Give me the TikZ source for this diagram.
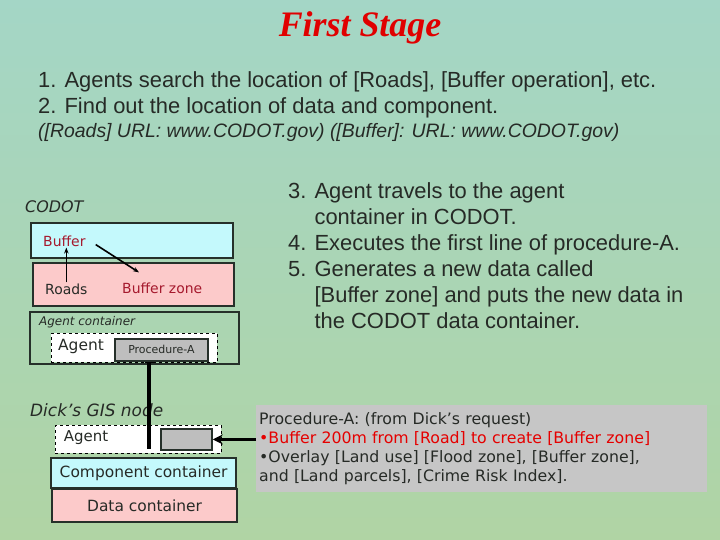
\documentclass[tikz,border=0pt]{standalone}
\usepackage{fontspec}
\setmainfont{Liberation Sans}
\newfontfamily\boxfont{DejaVu Sans}
\newfontfamily\titlefont{Liberation Serif}
\usetikzlibrary{arrows.meta}
\definecolor{bgtop}{RGB}{164,214,198}
\definecolor{bgbot}{RGB}{176,212,164}
\definecolor{skyfill}{RGB}{196,249,252}
\definecolor{pinkfill}{RGB}{252,202,202}
\definecolor{procgray}{RGB}{190,190,190}
\definecolor{notegray}{RGB}{198,198,198}
\definecolor{zonered}{RGB}{165,25,45}
\definecolor{boxline}{RGB}{38,48,42}
\definecolor{inktext}{RGB}{38,42,38}

\begin{document}
\begin{tikzpicture}[x=1bp,y=-1bp,
    panel/.style={draw=boxline,line width=2.2bp,anchor=north west,inner sep=0pt},
    dashbox/.style={draw=black,dashed,fill=white,line width=0.8bp,anchor=north west,inner sep=0pt},
    boxtext/.style={font=\boxfont\fontsize{14}{16}\selectfont,text=inktext,inner sep=1bp},
    tagtext/.style={font=\boxfont\itshape\fontsize{16}{18}\selectfont,text=inktext,anchor=west,inner sep=0pt},
    steptext/.style={font=\fontsize{22}{26.2}\selectfont,text=inktext,anchor=base west,inner sep=0pt}]

\useasboundingbox (0,0) rectangle (720,540);
\shade[top color=bgtop,bottom color=bgbot] (0,0) rectangle (720,540);

\node[font=\titlefont\bfseries\itshape\fontsize{36}{42}\selectfont,text=red!88!black] (title) at (360,28) {First Stage};

\node[steptext] (stepone) at (38,88) {1. Agents search the location of [Roads], [Buffer operation], etc.};
\node[steptext] (steptwo) at (38,114) {2. Find out the location of data and component.};
\node[steptext,font=\itshape\fontsize{19.5}{22}\selectfont] (urls) at (38,138) {([Roads] URL: www.CODOT.gov) ([Buffer]: URL: www.CODOT.gov)};

% CODOT node
\node[tagtext] (codot) at (25,207) {CODOT};
\node[panel,fill=skyfill,minimum width=202bp,minimum height=35bp] (bufferbox) at (30,222) {};
\node[panel,fill=pinkfill,minimum width=201bp,minimum height=43bp] (zonebox) at (32,262) {};
\node[boxtext,text=zonered,anchor=west] (buffer) at (42,241) {Buffer};
\node[boxtext,anchor=west] (roads) at (44,289) {Roads};
\node[boxtext,text=zonered,anchor=west] (bufzone) at (121,288) {Buffer zone};
\draw[-{Stealth[length=6bp]},line width=1.6bp] (roads.north) -- (roads.north |- buffer.south);
\draw[-{Stealth[length=6bp]},line width=1.6bp] ([shift={(9,-3)}]buffer.south east) -- ([shift={(18,-9)}]bufzone.north west);

\node[panel,minimum width=209bp,minimum height=52bp] (agentcont) at (29,311) {};
\node[tagtext,font=\boxfont\itshape\fontsize{12}{14}\selectfont] (contlabel) at (39,322) {Agent container};
\node[dashbox,minimum width=166bp,minimum height=29bp] (agentup) at (51,333) {};
\node[boxtext,font=\boxfont\fontsize{15.5}{18}\selectfont] (agentone) at (81,346) {Agent};
\node[panel,fill=procgray,line width=1.8bp,minimum width=93bp,minimum height=22bp] (procbox) at (114,338) {};
\node[boxtext,font=\boxfont\fontsize{11}{13}\selectfont] (proclabel) at (procbox.center) {Procedure-A};

% Dick's node
\node[tagtext,font=\boxfont\itshape\fontsize{17}{19}\selectfont] (dicknode) at (30,410) {Dick’s GIS node};
\node[dashbox,minimum width=166bp,minimum height=28bp] (agentdown) at (55,425) {};
\node[boxtext,font=\boxfont\fontsize{15}{17}\selectfont] (agenttwo) at (86,438) {Agent};
\node[panel,fill=procgray,line width=1.8bp,minimum width=51bp,minimum height=21bp] (minibox) at (160,428) {};
\node[panel,fill=skyfill,minimum width=185bp,minimum height=30bp] (compbox) at (50,457) {};
\node[boxtext,font=\boxfont\fontsize{15.5}{18}\selectfont] (complabel) at (compbox.center) {Component container};
\node[panel,fill=pinkfill,minimum width=185bp,minimum height=33bp] (databox) at (51,488) {};
\node[boxtext,font=\boxfont\fontsize{15.5}{18}\selectfont] (datalabel) at (databox.center) {Data container};

\coordinate (tap) at (149,449);
\draw[{Bar[width=9bp,line width=1.5bp]}-,line width=3.5bp] (procbox.south -| tap) -- (tap);

\node[steptext,anchor=north west,align=left] (travel) at (288,182)
  {3. Agent travels to the agent\\
   \phantom{3. }container in CODOT.\\
   4. Executes the first line of procedure-A.\\
   5. Generates a new data called\\
   \phantom{5. }[Buffer zone] and puts the new data in\\
   \phantom{5. }the CODOT data container.};

\node[fill=notegray,anchor=north west,text width=445bp,minimum height=87bp,inner sep=3bp,
      align=left,font=\boxfont\fontsize{15.8}{19}\selectfont,text=inktext] (note) at (256,405)
  {Procedure-A: (from Dick’s request)\\
   {\color{red!90!black}•Buffer 200m from [Road] to create [Buffer zone]}\\
   •Overlay [Land use] [Flood zone], [Buffer zone],\\
   and [Land parcels], [Crime Risk Index].};
\draw[-{Stealth[length=10bp,width=10bp]},line width=3.5bp] (note.west |- minibox.east) -- (minibox.east);
\end{tikzpicture}
\end{document}
